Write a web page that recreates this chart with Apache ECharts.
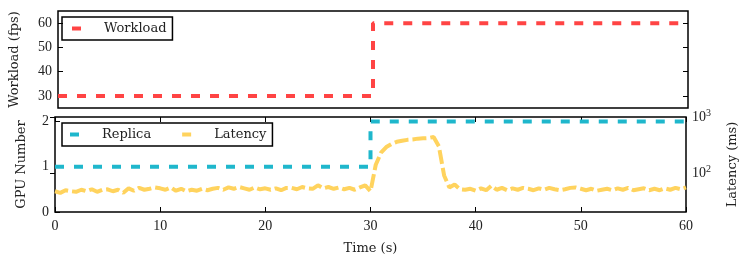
<!DOCTYPE html>
<html><head><meta charset="utf-8">
<script src="https://cdn.jsdelivr.net/npm/echarts@6/dist/echarts.min.js"></script>
<style>html,body{margin:0;padding:0;background:#fff}#c{width:747px;height:268px}</style>
</head><body><div id="c"></div>
<script>
const wlTime = [0, 30, 30, 60];
const wlFps = [30, 30, 60, 60];
const repTime = [0, 30, 30, 60];
const repGpu = [1, 1, 2, 2];
const latTime = [0,0.5,1,1.5,2,2.5,3,3.5,4,4.5,5,5.5,6,6.5,7,7.5,8,8.5,9,9.5,10,10.5,11,11.5,12,12.5,13,13.5,14,14.5,15,15.5,16,16.5,17,17.5,18,18.5,19,19.5,20,20.5,21,21.5,22,22.5,23,23.5,24,24.5,25,25.5,26,26.5,27,27.5,28,28.5,29,29.5,30,30.5,31,31.5,32,32.5,33,33.5,34,34.5,35,35.5,36,36.5,37,37.5,38,38.5,39,39.5,40,40.5,41,41.5,42,42.5,43,43.5,44,44.5,45,45.5,46,46.5,47,47.5,48,48.5,49,49.5,50,50.5,51,51.5,52,52.5,53,53.5,54,54.5,55,55.5,56,56.5,57,57.5,58,58.5,59,59.5,60];
const latMs = [47,44,49,47,46,50,47,51,46,50,51,47,50,44,53,48,54,50,52,55,53,50,55,48,52,47,50,48,52,49,52,54,50,55,52,56,53,50,55,51,53,50,53,49,54,54,51,56,53,52,60,53,56,52,55,51,54,50,55,60,47,140,230,290,330,360,375,390,395,410,415,420,440,300,90,55,62,51,50,52,48,53,49,59,50,54,49,53,50,54,52,49,53,50,54,51,49,51,54,55,52,49,52,48,50,52,49,53,50,54,49,51,53,49,52,49,53,50,54,51,55];
const xTicks = [0,10,20,30,40,50,60];
const wlTicks = [30,40,50,60];
const gpuTicks = [0,1,2];
const latTicks = [100,1000];

const zip = (a,b)=>a.map((v,i)=>[v,b[i]]);
const TF = 'Liberation Serif';
const NF = 'DejaVu Serif';
const tickLabel = {fontFamily: TF, fontSize: 14, color: '#222'};
const nameStyle = {fontFamily: NF, fontSize: 13, color: '#222'};
const RED = '#ff4444', CYAN = '#1fb7cc', YEL = '#ffd35e';

const chart = echarts.init(document.getElementById('c'), null, {renderer: 'canvas'});
chart.setOption({
  animation: false,
  grid: [
    {left: 55, right: 59, top: 11, height: 97, show: true, borderColor: '#000', borderWidth: 1.5},
    {left: 55, right: 59, top: 117, height: 95, show: true, borderColor: '#000', borderWidth: 1.5}
  ],
  legend: [
    {data: ['Workload'], left: 62, top: 17, orient: 'horizontal', icon: 'rect', itemWidth: 9, itemHeight: 4,
     borderColor: '#000', borderWidth: 1.5, borderRadius: 0, padding: [5, 6, 5, 10],
     textStyle: {fontFamily: NF, fontSize: 13, color: '#222', padding: [0, 0, 0, 18]}},
    {data: ['Replica', 'Latency'], left: 62, top: 123, orient: 'horizontal', icon: 'rect', itemWidth: 9, itemHeight: 4, itemGap: 31,
     borderColor: '#000', borderWidth: 1.5, borderRadius: 0, padding: [5, 6, 5, 8],
     textStyle: {fontFamily: NF, fontSize: 13, color: '#222', padding: [0, 0, 0, 18]}}
  ],
  xAxis: [
    {gridIndex: 0, type: 'value', min: 0, max: 60, interval: 10, axisLabel: {show: false}, axisTick: {show: false}, axisLine: {show: false}, splitLine: {show: false}},
    {gridIndex: 1, type: 'value', min: 0, max: 60, interval: 10, position: 'bottom',
     axisLabel: {...tickLabel, margin: 7, customValues: xTicks}, axisTick: {inside: true, length: 5, lineStyle: {color: '#000'}, customValues: xTicks},
     axisLine: {show: false}, splitLine: {show: false},
     name: 'Time (s)', nameLocation: 'middle', nameGap: 30, nameTextStyle: nameStyle},
    {gridIndex: 1, type: 'value', min: 0, max: 60, interval: 10, position: 'top',
     axisLabel: {show: false}, axisTick: {inside: true, length: 5, lineStyle: {color: '#000'}, customValues: xTicks},
     axisLine: {show: false}, splitLine: {show: false}}
  ],
  yAxis: [
    {gridIndex: 0, type: 'value', min: 25, max: 65, position: 'left',
     axisLabel: {...tickLabel, margin: 6, customValues: wlTicks}, axisTick: {inside: true, length: 5, lineStyle: {color: '#000'}, customValues: wlTicks},
     axisLine: {show: false}, splitLine: {show: false},
     name: 'Workload (fps)', nameLocation: 'middle', nameRotate: 90, nameGap: 37, nameTextStyle: nameStyle},
    {gridIndex: 0, type: 'value', min: 25, max: 65, position: 'right',
     axisLabel: {show: false}, axisTick: {inside: true, length: 5, lineStyle: {color: '#000'}, customValues: wlTicks},
     axisLine: {show: false}, splitLine: {show: false}},
    {gridIndex: 1, type: 'value', min: 0, max: 2.1, position: 'left',
     axisLabel: {...tickLabel, margin: 6, customValues: gpuTicks}, axisTick: {inside: true, length: 5, lineStyle: {color: '#000'}, customValues: gpuTicks},
     axisLine: {show: false}, splitLine: {show: false},
     name: 'GPU Number', nameLocation: 'middle', nameRotate: 90, nameGap: 27, nameTextStyle: nameStyle},
    {gridIndex: 1, type: 'log', logBase: 10, min: 20, max: 1000, position: 'right',
     axisLabel: {margin: 6, customValues: latTicks,
       formatter: v => '{b|10}{s|' + Math.round(Math.log10(v)) + '}',
       rich: {b: {fontFamily: TF, fontSize: 14, color: '#222'}, s: {fontFamily: TF, fontSize: 10, color: '#222', verticalAlign: 'top', padding: [0, 0, 8, 0]}}},
     axisTick: {inside: true, length: 5, lineStyle: {color: '#000'}, customValues: latTicks},
     axisLine: {show: false}, splitLine: {show: false},
     name: 'Latency (ms)', nameLocation: 'middle', nameRotate: 90, nameGap: 40, nameTextStyle: nameStyle}
  ],
  series: [
    {name: 'Workload', type: 'line', xAxisIndex: 0, yAxisIndex: 0, data: zip(wlTime, wlFps), symbol: 'none',
     itemStyle: {color: RED}, lineStyle: {color: RED, width: 4, type: [9, 10], cap: 'butt'}},
    {name: 'Replica', type: 'line', xAxisIndex: 1, yAxisIndex: 2, data: zip(repTime, repGpu), symbol: 'none',
     itemStyle: {color: CYAN}, lineStyle: {color: CYAN, width: 4, type: [9, 10], cap: 'butt'}},
    {name: 'Latency', type: 'line', xAxisIndex: 1, yAxisIndex: 3, data: zip(latTime, latMs), symbol: 'none',
     itemStyle: {color: YEL}, lineStyle: {color: YEL, width: 4, type: [14, 4], cap: 'butt'}}
  ]
});
</script></body></html>
